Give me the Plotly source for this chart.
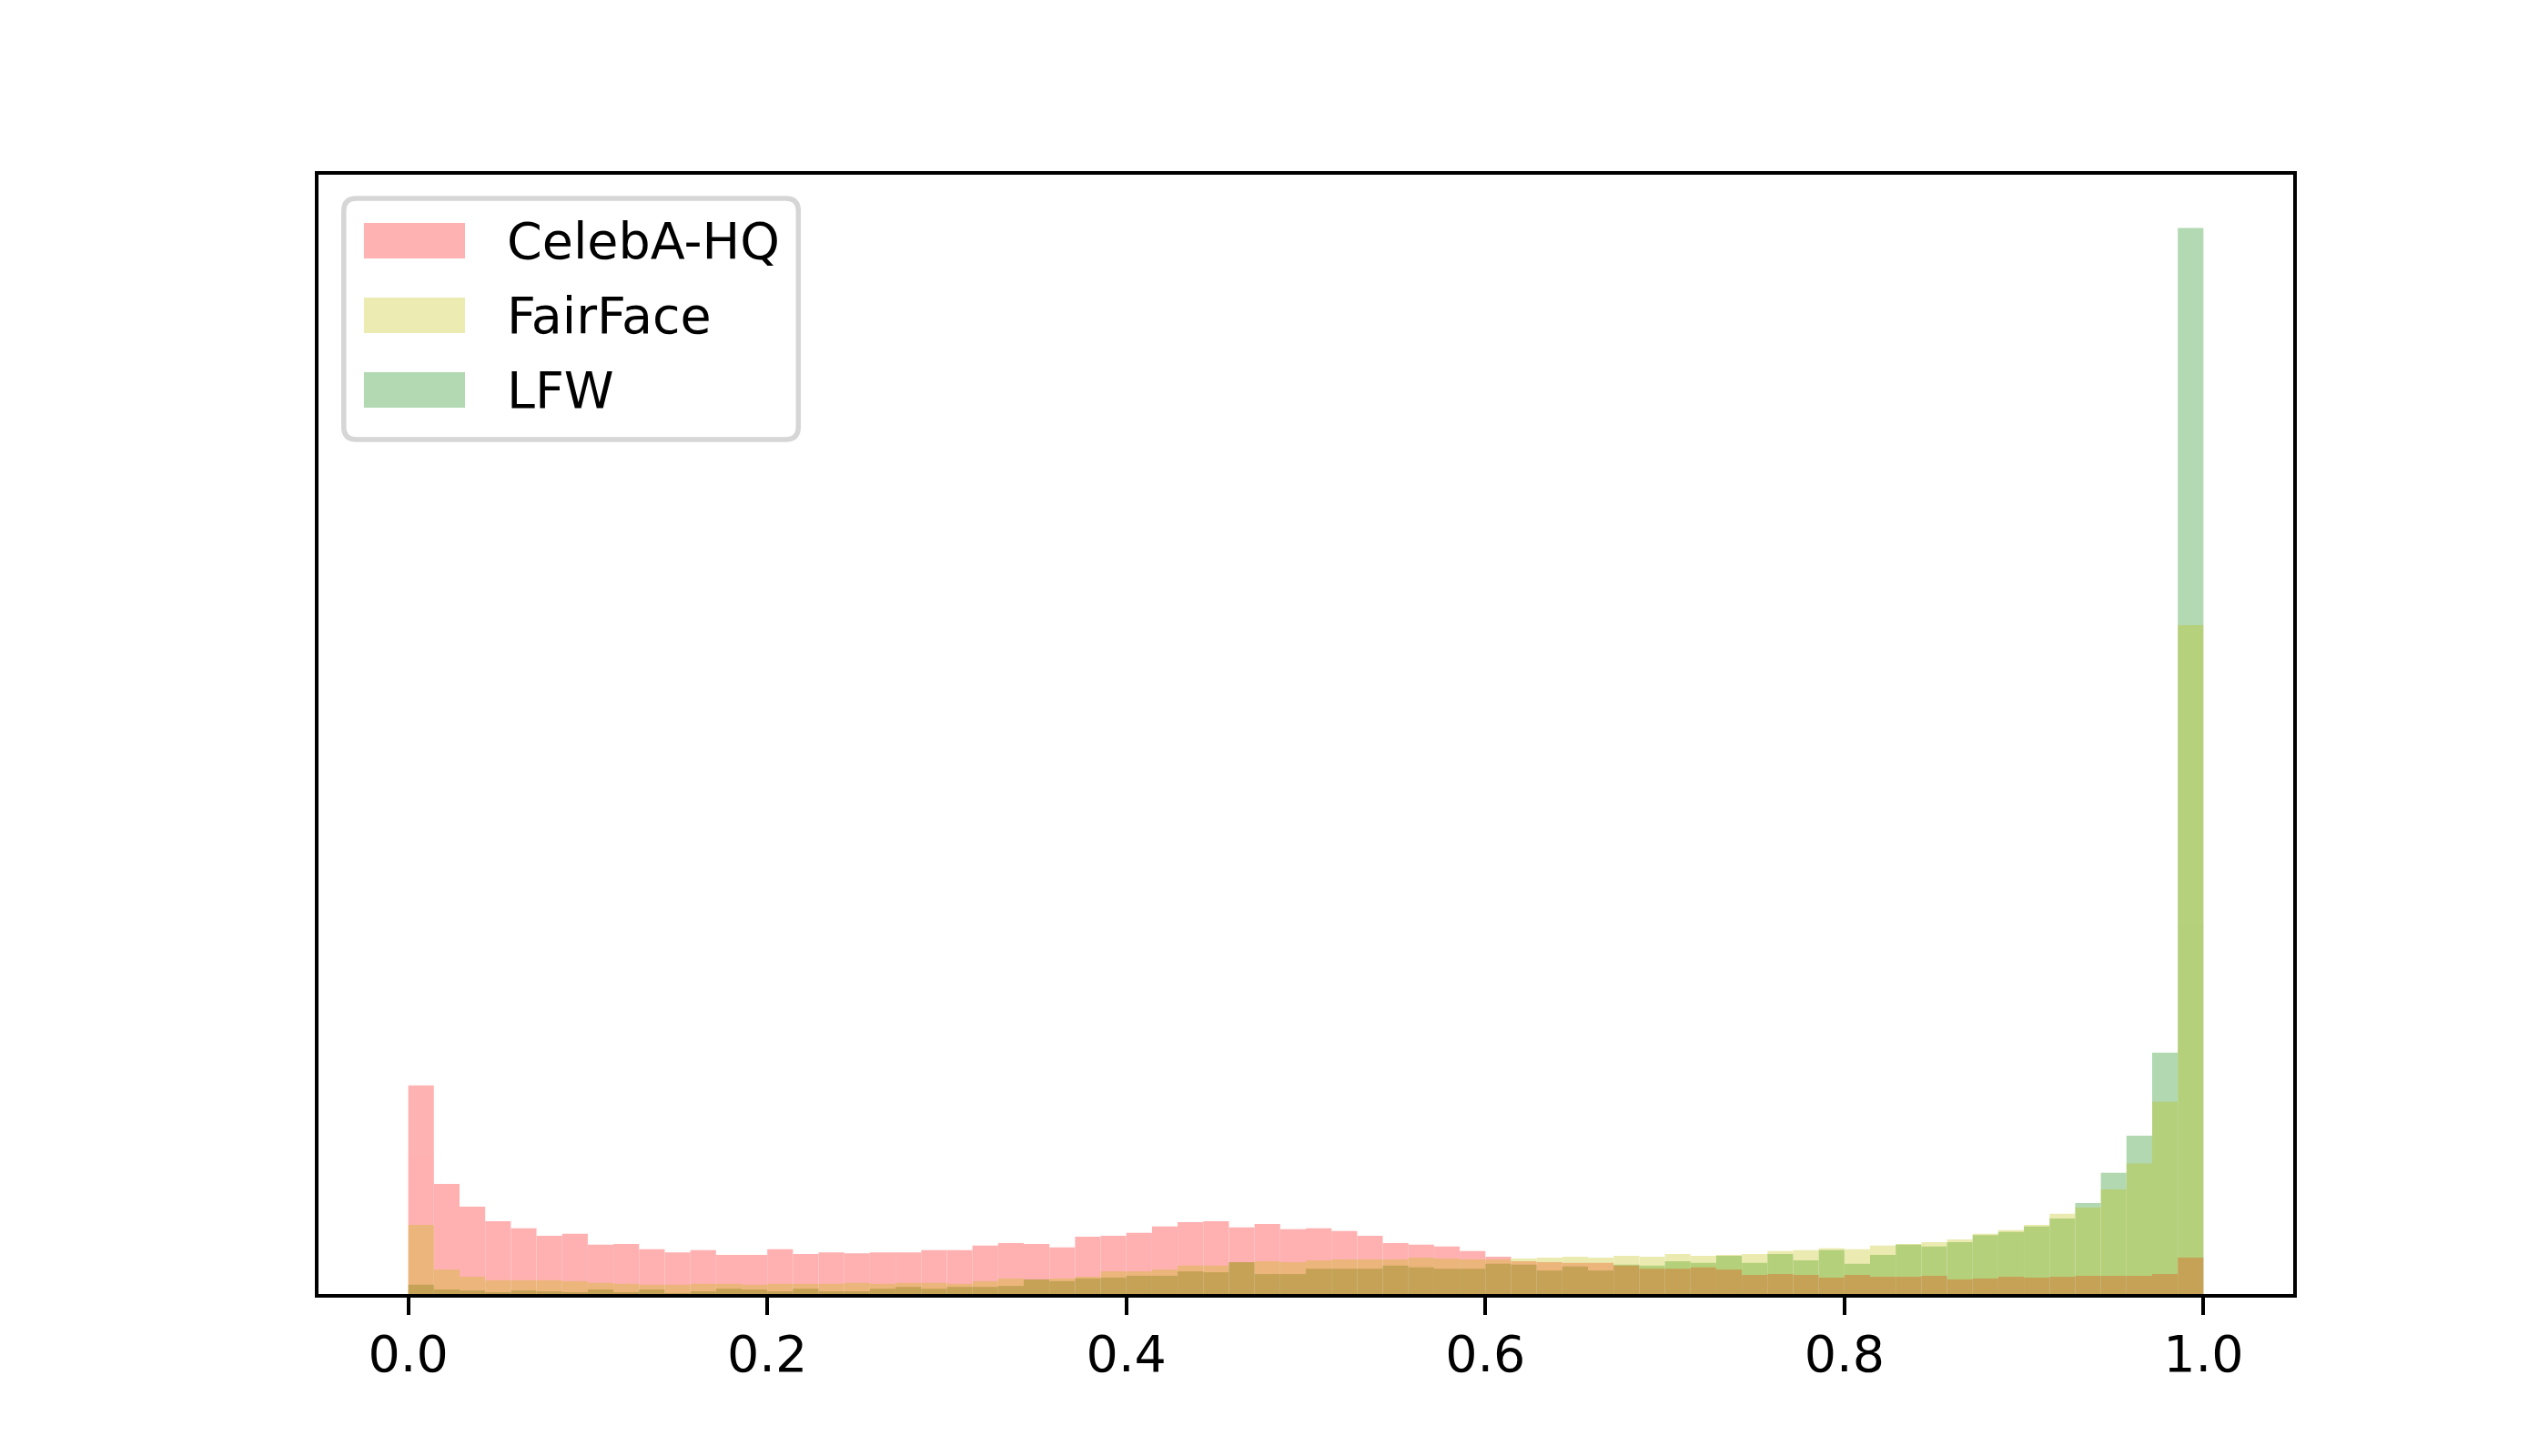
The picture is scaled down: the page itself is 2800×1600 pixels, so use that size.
import numpy as np
import plotly.graph_objects as go

# 70 equal bins on [0, 1], density-normalised histograms
bin_edges = np.linspace(0.0, 1.0, 71)

celeba_hq = [4.70, 2.48, 1.97, 1.64, 1.48, 1.31, 1.36, 1.11, 1.13, 1.01,
             0.94, 0.99, 0.88, 0.88, 1.01, 0.90, 0.94, 0.92, 0.94, 0.94,
             0.99, 0.99, 1.09, 1.15, 1.13, 1.05, 1.29, 1.31, 1.38, 1.52,
             1.62, 1.64, 1.50, 1.58, 1.46, 1.48, 1.42, 1.31, 1.15, 1.11,
             1.07, 0.97, 0.84, 0.74, 0.72, 0.70, 0.70, 0.64, 0.57, 0.57,
             0.60, 0.55, 0.43, 0.45, 0.43, 0.37, 0.43, 0.39, 0.39, 0.41,
             0.33, 0.35, 0.39, 0.37, 0.39, 0.41, 0.41, 0.41, 0.45, 0.82]

fairface = [1.56, 0.55, 0.39, 0.31, 0.31, 0.31, 0.29, 0.25, 0.23, 0.21,
            0.21, 0.23, 0.23, 0.21, 0.23, 0.23, 0.23, 0.25, 0.23, 0.25,
            0.25, 0.23, 0.29, 0.35, 0.33, 0.35, 0.39, 0.51, 0.51, 0.55,
            0.64, 0.64, 0.72, 0.74, 0.72, 0.76, 0.78, 0.78, 0.78, 0.82,
            0.80, 0.78, 0.78, 0.80, 0.82, 0.84, 0.82, 0.86, 0.84, 0.90,
            0.86, 0.88, 0.90, 0.97, 0.99, 1.03, 1.01, 1.09, 1.13, 1.17,
            1.23, 1.36, 1.44, 1.56, 1.81, 1.95, 2.36, 2.94, 4.33, 15.07]

lfw = [0.21, 0.10, 0.08, 0.04, 0.08, 0.06, 0.04, 0.10, 0.04, 0.10,
       0.02, 0.06, 0.12, 0.10, 0.06, 0.12, 0.06, 0.06, 0.12, 0.16,
       0.12, 0.16, 0.16, 0.18, 0.33, 0.29, 0.35, 0.37, 0.41, 0.41,
       0.51, 0.49, 0.72, 0.45, 0.45, 0.57, 0.57, 0.57, 0.64, 0.60,
       0.57, 0.57, 0.68, 0.66, 0.53, 0.62, 0.53, 0.66, 0.64, 0.74,
       0.70, 0.86, 0.70, 0.90, 0.76, 0.99, 0.68, 0.88, 1.11, 1.07,
       1.17, 1.33, 1.40, 1.52, 1.70, 2.05, 2.73, 3.57, 5.44, 24.02]

# legend order
series = [("CelebA-HQ", celeba_hq, "#ff0000"),
          ("FairFace", fairface, "#bfbf00"),
          ("LFW", lfw, "#008000")]
# drawing order (bottom to top), as the overlaps in the original blend
draw_order = [2, 0, 1]

x_ticks = [0.0, 0.2, 0.4, 0.6, 0.8, 1.0]
x_ticklabels = ["0.0", "0.2", "0.4", "0.6", "0.8", "1.0"]

centers = (bin_edges[:-1] + bin_edges[1:]) / 2
width = bin_edges[1] - bin_edges[0]
font_px = 55.5
alpha = 0.3

fig = go.Figure()
for i in draw_order:
    name, values, color = series[i]
    fig.add_trace(go.Bar(
        x=centers, y=values, width=width, name=name,
        marker=dict(color=color, line=dict(width=0)),
        opacity=alpha,
    ))

ymax = max(max(s[1]) for s in series) * 1.05

# the html page adds an 8px body margin, so shift the plot area back by 8px
fig.update_layout(
    width=2800, height=1600,
    barmode="overlay",
    showlegend=False,
    paper_bgcolor="white",
    plot_bgcolor="white",
    margin=dict(l=342, r=288, t=184, b=186, pad=0),
    font=dict(family="DejaVu Sans", size=font_px, color="black"),
)
fig.update_xaxes(
    range=[-0.05, 1.05],
    tickvals=x_ticks, ticktext=x_ticklabels,
    ticks="outside", ticklen=19, tickwidth=4.4, tickcolor="black",
    ticklabelstandoff=-5,
    showline=True, linewidth=4.4, linecolor="black", mirror=True,
    showgrid=False, zeroline=False,
)
fig.update_yaxes(
    range=[0, ymax],
    showticklabels=False, ticks="",
    showline=True, linewidth=4.4, linecolor="black", mirror=True,
    showgrid=False, zeroline=False,
)

# matplotlib-style legend box (upper left), drawn in axes-fraction coordinates
plot_w, plot_h = 2170, 1230
rx, ry = 14 / plot_w, 14 / plot_h
x0, x1, y0, y1 = 0.0128, 0.2430, 0.7634, 0.9789
frame_path = (
    f"M{x0 + rx},{y1} L{x1 - rx},{y1} Q{x1},{y1} {x1},{y1 - ry} "
    f"L{x1},{y0 + ry} Q{x1},{y0} {x1 - rx},{y0} "
    f"L{x0 + rx},{y0} Q{x0},{y0} {x0},{y0 + ry} "
    f"L{x0},{y1 - ry} Q{x0},{y1} {x0 + rx},{y1} Z"
)
fig.add_shape(type="path", path=frame_path, xref="paper", yref="paper",
              line=dict(color="#d6d6d6", width=5.5),
              fillcolor="rgba(255,255,255,0.8)", layer="above")

row_tops = [0.9569, 0.8902, 0.8236]
swatch_h = 0.0317
for (name, _, color), top in zip(series, row_tops):
    fig.add_shape(type="rect", xref="paper", yref="paper",
                  x0=0.0230, x1=0.0742, y0=top - swatch_h, y1=top,
                  fillcolor=color, opacity=alpha, line=dict(width=0),
                  layer="above")
    fig.add_annotation(x=0.0945, y=top - swatch_h / 2, xref="paper", yref="paper",
                       text=name, showarrow=False, xanchor="left", yanchor="middle",
                       font=dict(size=font_px, color="black"))

fig.write_html("out.html")
